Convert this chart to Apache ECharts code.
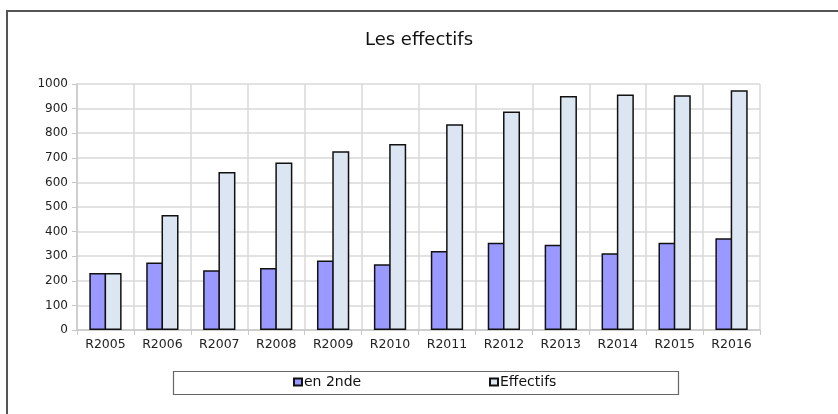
<!DOCTYPE html>
<html>
<head>
<meta charset="utf-8">
<script src="https://cdn.jsdelivr.net/npm/echarts@6/dist/echarts.min.js"></script>
<style>
  html, body { margin: 0; padding: 0; background: #fff; }
  #main { width: 838px; height: 414px; }
</style>
</head>
<body>
<div id="main"></div>
<script>
// données
const annees = ['R2005', 'R2006', 'R2007', 'R2008', 'R2009', 'R2010',
  'R2011', 'R2012', 'R2013', 'R2014', 'R2015', 'R2016']
const en2nde = [232, 274, 243, 252, 283, 267, 321, 355, 347, 312, 355, 373]
const effectifs = [232, 467, 642, 681, 727, 756, 836, 888, 951, 957, 954, 975]

const police = 'DejaVu Sans'
const myChart = echarts.init(document.getElementById('main'))

const option = {
  animation: false,
  backgroundColor: '#fff',
  title: {
    text: 'Les effectifs',
    left: 'center',
    top: 26,
    textStyle: { fontFamily: police, fontSize: 18, fontWeight: 'normal', color: '#111' },
  },
  // cadre et boite de la legende
  graphic: [
    {
      type: 'rect',
      shape: { x: 7, y: 11, width: 900, height: 500 },
      style: { fill: 'none', stroke: '#555', lineWidth: 2 },
    },
    {
      type: 'rect',
      shape: { x: 173.5, y: 371.5, width: 505, height: 23 },
      style: { fill: '#fff', stroke: '#666', lineWidth: 1.2 },
      z: 0,
    },
  ],
  legend: [
    {
      data: [{ name: 'en 2nde', icon: 'rect' }],
      left: 293,
      top: 375,
      padding: 0,
      itemWidth: 8,
      itemHeight: 7,
      itemGap: 0,
      textStyle: { fontFamily: police, fontSize: 14, color: '#111', padding: [0, 0, 0, -3] },
    },
    {
      data: [{ name: 'Effectifs', icon: 'rect' }],
      left: 489,
      top: 375,
      padding: 0,
      itemWidth: 8,
      itemHeight: 7,
      itemGap: 0,
      textStyle: { fontFamily: police, fontSize: 14, color: '#111', padding: [0, 0, 0, -3] },
    },
  ],
  grid: {
    left: 77,
    right: 78,
    top: 84,
    bottom: 84,
  },
  xAxis: {
    type: 'category',
    data: annees,
    axisLine: { lineStyle: { color: '#c8c8c8', width: 1.5 } },
    axisTick: { show: true, length: 5, lineStyle: { color: '#c8c8c8' } },
    axisLabel: { fontFamily: police, fontSize: 12.5, color: '#222', margin: 8 },
    splitLine: { show: true, lineStyle: { color: '#d9d9d9', width: 1.5 } },
  },
  yAxis: {
    type: 'value',
    min: 0,
    max: 1000,
    interval: 100,
    axisLine: { show: true, lineStyle: { color: '#c8c8c8', width: 1.5 } },
    axisTick: { show: true, length: 5, lineStyle: { color: '#c8c8c8' } },
    axisLabel: {
      fontFamily: police, fontSize: 12, color: '#222', margin: 9,
      formatter: (v) => String(v),
    },
    splitLine: { show: true, lineStyle: { color: '#d9d9d9', width: 1.5 } },
  },
  series: [
    {
      name: 'en 2nde',
      type: 'bar',
      data: en2nde,
      barWidth: 17,
      barGap: '-10%',
      itemStyle: { color: '#9999ff', borderColor: '#111', borderWidth: 1.5 },
    },
    {
      name: 'Effectifs',
      type: 'bar',
      data: effectifs,
      barWidth: 17,
      barGap: '-10%',
      itemStyle: { color: '#dce6f2', borderColor: '#111', borderWidth: 1.5 },
    },
  ],
}

myChart.setOption(option)
</script>
</body>
</html>
